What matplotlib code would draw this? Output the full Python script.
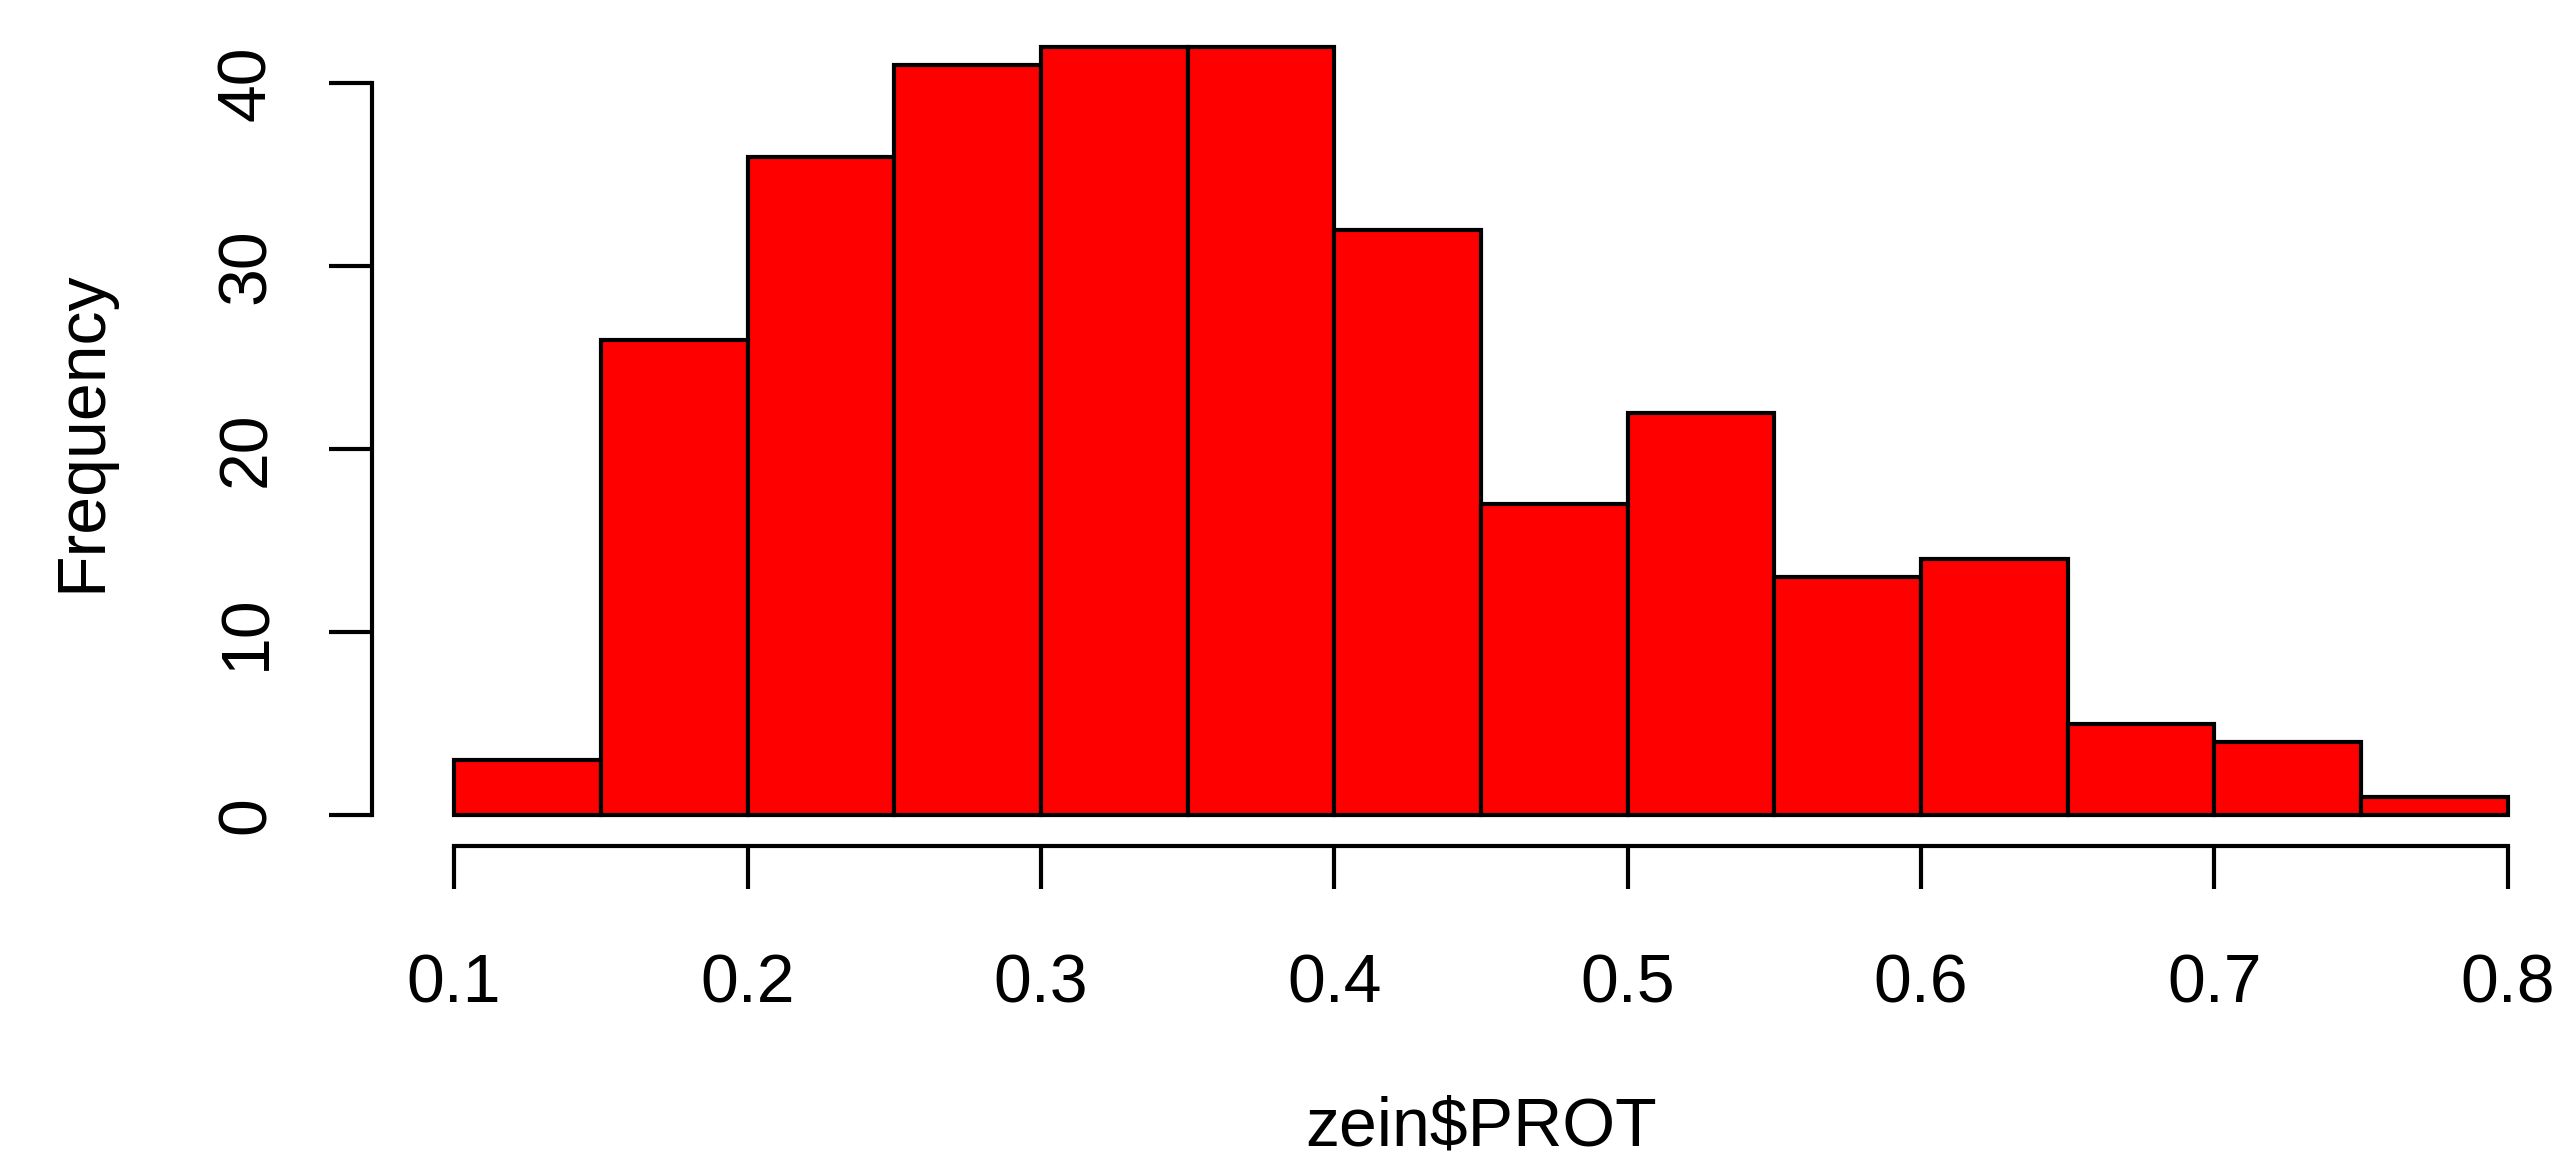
import matplotlib
matplotlib.use("Agg")
import matplotlib.pyplot as plt

# histogram of zein$PROT (R base graphics look)
bin_edges = [0.10, 0.15, 0.20, 0.25, 0.30, 0.35, 0.40, 0.45,
             0.50, 0.55, 0.60, 0.65, 0.70, 0.75, 0.80]
counts = [3, 26, 36, 41, 42, 42, 32, 17, 22, 13, 14, 5, 4, 1]
x_ticks = [0.1, 0.2, 0.3, 0.4, 0.5, 0.6, 0.7, 0.8]
y_ticks = [0, 10, 20, 30, 40]

plt.rcParams['font.family'] = ['Liberation Sans', 'DejaVu Sans']

W, H = 2560, 1173
fig = plt.figure(figsize=(W / 100, H / 100), dpi=100)
# plot region in pixels (right edge runs past the image, like the cropped source)
left, right, top, bottom = 372, 2590, 16, 846
ax = fig.add_axes([left / W, (H - bottom) / H, (right - left) / W, (bottom - top) / H])

widths = [b - a for a, b in zip(bin_edges[:-1], bin_edges[1:])]
ax.bar(bin_edges[:-1], counts, width=widths, align='edge',
       color='#ff0000', edgecolor='black', linewidth=3.0)

# R style: 4% padding, axes only over the tick range
xr = bin_edges[-1] - bin_edges[0]
ax.set_xlim(bin_edges[0] - 0.04 * xr, bin_edges[-1] + 0.04 * xr)
ymax = max(counts)
ax.set_ylim(-0.04 * ymax, ymax * 1.04)

for s in ['top', 'right']:
    ax.spines[s].set_visible(False)
ax.spines['left'].set_bounds(y_ticks[0], y_ticks[-1])
ax.spines['bottom'].set_bounds(x_ticks[0], x_ticks[-1])
for s in ['left', 'bottom']:
    ax.spines[s].set_linewidth(3.0)

ax.set_xticks(x_ticks)
ax.set_xticklabels([f'{v:.1f}' for v in x_ticks])
ax.set_yticks(y_ticks)
ax.set_yticklabels([str(v) for v in y_ticks], rotation=90, va='center')
ax.tick_params(axis='both', length=31, width=3.0, labelsize=49, color='black')
ax.tick_params(axis='x', pad=46)
ax.tick_params(axis='y', pad=36)

ax.set_xlabel('zein$PROT', fontsize=49, va='center')
ax.set_ylabel('Frequency', fontsize=49, va='center')
ax.xaxis.set_label_coords(0.5, (bottom - 1127) / (bottom - top))
ax.yaxis.set_label_coords((82 - left) / (right - left), 0.5)

fig.savefig('out.png', dpi=100)
